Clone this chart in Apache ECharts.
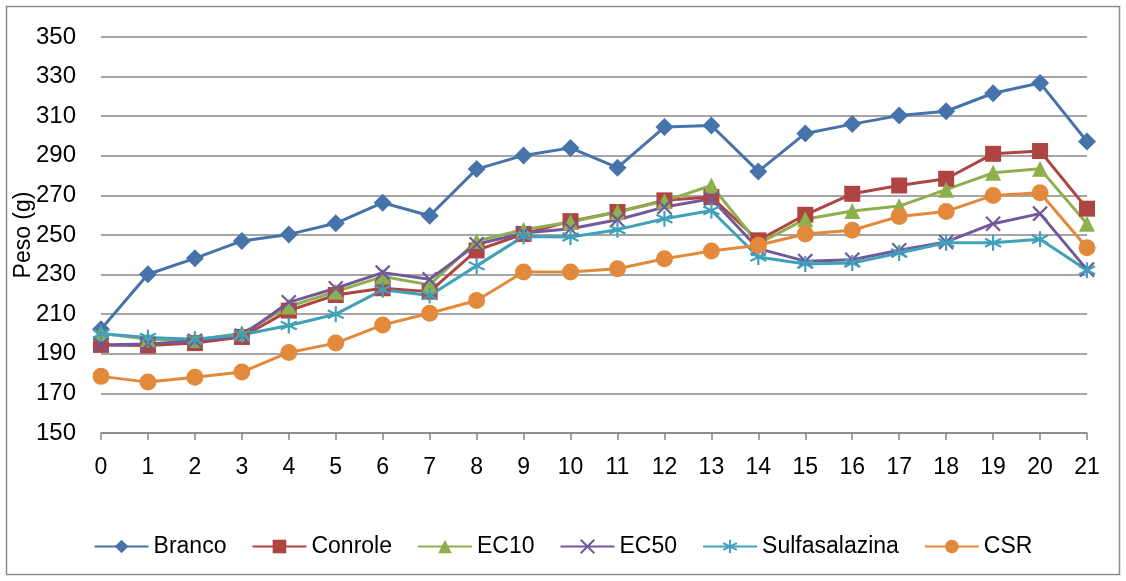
<!DOCTYPE html>
<html>
<head>
<meta charset="utf-8">
<script src="https://cdn.jsdelivr.net/npm/echarts@6/dist/echarts.min.js"></script>
<style>
  html, body { margin: 0; padding: 0; background: #fff; }
  #chart { width: 1126px; height: 581px; }
</style>
</head>
<body>
<div id="chart"></div>
<script>
const days = ['0','1','2','3','4','5','6','7','8','9','10','11','12','13','14','15','16','17','18','19','20','21']

const branco = [202.4, 230.2, 238.2, 247, 250.3, 255.9, 266.3, 259.7, 283.3, 290.2, 294, 284, 304.5, 305.3, 282.1, 301.3, 306, 310.3, 312.5, 321.6, 326.8, 297.2]
const conrole = [194.5, 194.2, 195.4, 198.5, 211.8, 219.7, 223.1, 221.4, 242.2, 250.5, 257, 261.6, 267.5, 269.2, 247.3, 260.2, 270.8, 275, 278.4, 291, 292.4, 263.3]
const ec10 = [200.4, 197.4, 197, 200.4, 213.9, 221.4, 229, 224.8, 247, 252.7, 256.6, 261.6, 267.1, 275, 245.6, 258, 262.1, 264.6, 272.9, 281.4, 283.4, 255.7]
const ec50 = [194.5, 195, 196.6, 199.1, 216, 223.1, 231, 227.6, 245.3, 251, 253.2, 257.7, 264.1, 268.3, 243.1, 236.8, 237.5, 242.3, 246.5, 255.7, 260.8, 232.5]
const sulfa = [200.1, 198.2, 197.4, 199.6, 204.3, 210, 222.3, 219.4, 234.4, 249.3, 249, 252.7, 258.2, 262.4, 238.9, 235.3, 235.9, 240.9, 246.1, 246.1, 247.8, 232.2]
const csr = [178.6, 175.7, 178.2, 180.8, 190.7, 195.4, 204.6, 210.5, 216.9, 231.3, 231.3, 233, 238, 241.9, 244.8, 250.5, 252.4, 259.4, 261.9, 270, 271.3, 243.6]

const yTicks = { min: 150, max: 350, step: 20 }

const chart = echarts.init(document.getElementById('chart'))

const font = 'Liberation Sans'
const gridGray = '#878787'

function makeSeries(name, data, color, symbol, size, stroke) {
  return {
    name: name,
    type: 'line',
    data: data,
    symbol: symbol,
    symbolSize: size,
    lineStyle: { color: color, width: 3 },
    itemStyle: stroke
      ? { color: 'rgba(0,0,0,0)', borderColor: color, borderWidth: 2.2 }
      : { color: color, borderColor: color, borderWidth: 0 },
    emphasis: { disabled: true },
    z: 3,
  }
}

// x and asterisk markers drawn as stroked paths
const xMark = 'path://M0,0L10,10M10,0L0,10'
const starMark = 'path://M5,0L5,10M0,2.5L10,7.5M10,2.5L0,7.5'

const option = {
  animation: false,
  textStyle: { fontFamily: font },
  graphic: [
    {
      type: 'rect',
      shape: { x: 6.5, y: 6.5, width: 1113, height: 568 },
      style: { fill: 'none', stroke: '#8c8c8c', lineWidth: 1.5 },
      silent: true,
    },
  ],
  grid: {
    left: 101,
    right: 39,
    top: 37,
    bottom: 148,
    containLabel: false,
    outerBoundsMode: 'none',
  },
  legend: {
    bottom: 18,
    left: 'center',
    itemWidth: 54,
    itemHeight: 17,
    itemGap: 25,
    textStyle: { fontSize: 23, color: '#000', fontFamily: font },
    data: ['Branco', 'Conrole', 'EC10', 'EC50', 'Sulfasalazina', 'CSR'],
  },
  xAxis: {
    type: 'category',
    data: days,
    boundaryGap: false,
    axisLine: { lineStyle: { color: gridGray, width: 1.5 } },
    axisTick: { show: true, length: 7, lineStyle: { color: gridGray, width: 1.5 } },
    axisLabel: { color: '#000', fontSize: 23, margin: 23 },
  },
  yAxis: {
    type: 'value',
    min: yTicks.min,
    max: yTicks.max,
    interval: yTicks.step,
    name: 'Peso (g)',
    nameLocation: 'middle',
    nameGap: 66,
    nameMoveOverlap: false,
    nameTextStyle: { fontSize: 23, color: '#000' },
    axisLine: { show: false },
    axisTick: { show: false },
    axisLabel: { color: '#000', fontSize: 24, margin: 25 },
    splitLine: { lineStyle: { color: gridGray, width: 1.5 } },
  },
  series: [
    makeSeries('Branco', branco, '#4673A9', 'diamond', 18, false),
    makeSeries('Conrole', conrole, '#AF4542', 'rect', 16, false),
    makeSeries('EC10', ec10, '#8EAF4E', 'triangle', 16, false),
    makeSeries('EC50', ec50, '#72599B', xMark, 14, true),
    makeSeries('Sulfasalazina', sulfa, '#40A1BB', starMark, 16, true),
    makeSeries('CSR', csr, '#E3893B', 'circle', 17, false),
  ],
}

chart.setOption(option)
</script>
</body>
</html>
